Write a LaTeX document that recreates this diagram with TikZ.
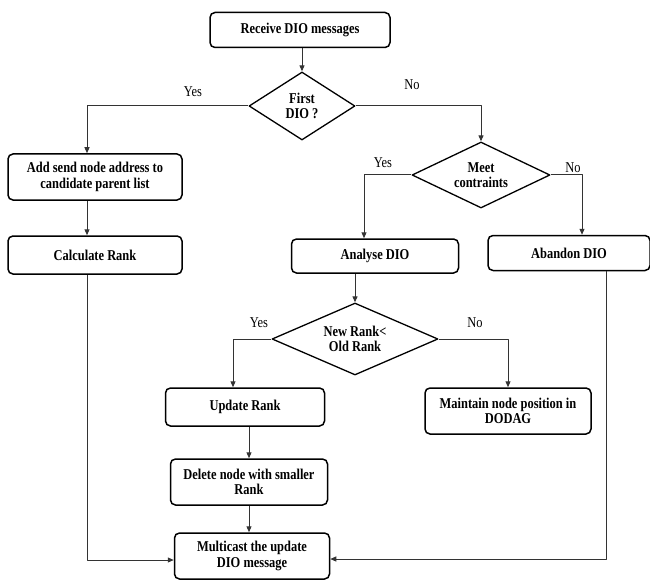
\documentclass[tikz,border=0pt]{standalone}
\usepackage{fontspec}
\setmainfont[FakeStretch=0.83]{Liberation Serif}
\usetikzlibrary{shapes.geometric,arrows.meta}
\begin{document}
\begin{tikzpicture}[x=1pt,y=-1pt,>={Triangle[length=6pt,width=5pt]},line join=round,
  font=\fontsize{15}{15.5}\selectfont\bfseries,
  box/.style={draw,line width=1.5pt,rounded corners=5pt,align=center,inner sep=0pt},
  dec/.style={draw,diamond,line width=1.3pt,align=center,inner sep=0pt,aspect=1.6},
  con/.style={->,line width=1pt,draw=black!80},
  lab/.style={font=\fontsize{15}{15.5}\selectfont}]
\useasboundingbox (0,0) rectangle (650,580);
% boxes
\node[box,minimum width=180,minimum height=35] (recv) at (300,30) {Receive DIO messages};
\node[dec,minimum width=106,minimum height=68] (first) at (302,106) {First\\DIO ?};
\node[box,minimum width=174,minimum height=46] (add) at (95,177) {Add send node address to\\candidate parent list};
\node[box,minimum width=174,minimum height=38] (calc) at (95,255) {Calculate Rank};
\node[dec,minimum width=138,minimum height=66] (meet) at (481,175) {Meet\\contraints};
\node[box,minimum width=167,minimum height=34] (anal) at (375,256) {Analyse DIO};
\node[box,minimum width=162,minimum height=35] (aband) at (569,253) {Abandon DIO};
\node[dec,minimum width=166,minimum height=72] (newr) at (355,339) {New Rank<\\Old Rank};
\node[box,minimum width=159,minimum height=38] (upd) at (245,407) {Update Rank};
\node[box,minimum width=166,minimum height=46] (maint) at (508,411) {Maintain node position in\\DODAG};
\node[box,minimum width=157,minimum height=46] (del) at (249,482) {Delete node with smaller\\Rank};
\node[box,minimum width=155,minimum height=46] (multi) at (252,556) {Multicast the update\\DIO message};
% connectors
\draw[con] (first.north |- recv.south) -- (first.north);
\draw[con] (first.west) -| ([xshift=-8pt]add.north);
\draw[con] (first.east) -| (meet.north);
\draw[con] ([xshift=-8pt]add.south) -- ([xshift=-8pt]calc.north);
\draw[con] (meet.west) -| ([xshift=-11pt]anal.north);
\draw[con] (meet.east) -| ([xshift=13pt]aband.north);
\draw[con] (newr.north |- anal.south) -- (newr.north);
\draw[con] (newr.west) -| ([xshift=-12pt]upd.north);
\draw[con] (newr.east) -| (maint.north);
\draw[con] (del.north |- upd.south) -- (del.north);
\draw[con] (del.south) -- (del.south |- multi.north);
\draw[con] ([xshift=-8pt]calc.south) |- ([yshift=-4pt]multi.west);
\draw[con] ([xshift=37pt]aband.south) |- ([yshift=-3pt]multi.east);
% labels
\path (193,92) node[lab] {Yes} (412,85) node[lab] {No}
      (383,163) node[lab] {Yes} (573,168) node[lab] {No}
      (259,323) node[lab] {Yes} (475,323) node[lab] {No};
\end{tikzpicture}
\end{document}
